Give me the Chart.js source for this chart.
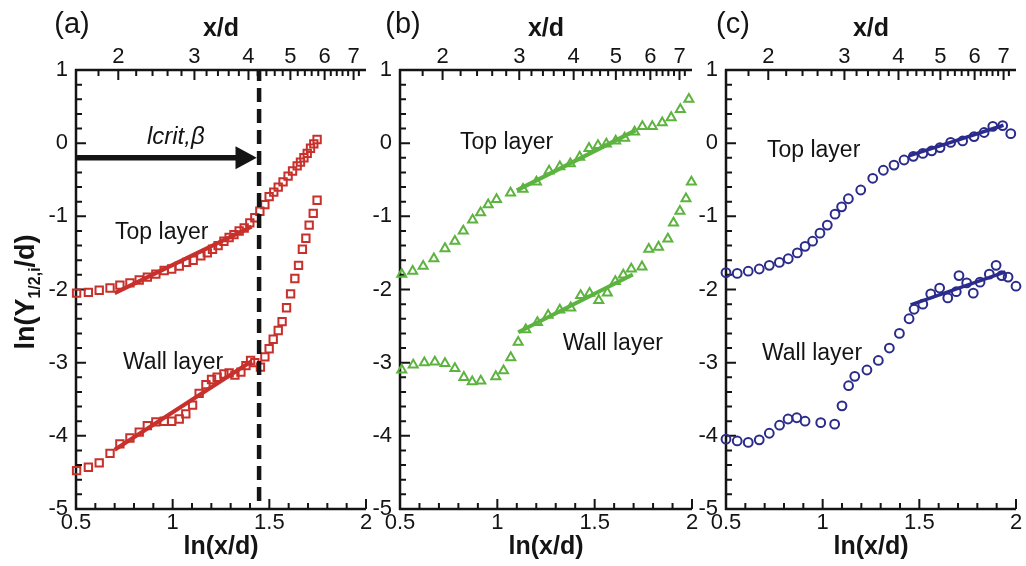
<!DOCTYPE html>
<html><head><meta charset="utf-8">
<script src="https://cdn.jsdelivr.net/npm/chart.js"></script>
<style>
html,body{margin:0;padding:0;background:#fff;}
#wrap{position:relative;width:1026px;height:566px;background:#fff;}
canvas{position:absolute;left:0;top:0;}
</style></head><body>
<div id="wrap">
<canvas id="ca" width="1026" height="566"></canvas>
<canvas id="cb" width="1026" height="566"></canvas>
<canvas id="cc" width="1026" height="566"></canvas>
</div>
<script>
// ---------- axis tick labels ----------
const xTicksBottom = [0.5, 1, 1.5, 2];
const yTicks = [-5, -4, -3, -2, -1, 0, 1];
const xdTopTicks = [2, 3, 4, 5, 6, 7];
const xdTopMinor = [1.8, 2.2, 2.4, 2.6, 2.8, 3.2, 3.4, 3.6, 3.8, 4.2, 4.4, 4.6, 4.8, 5.2, 5.4, 5.6, 5.8, 6.2, 6.4, 6.6, 6.8, 7.2];

// ---------- panel (a) ----------
const aTopX = [0.503,0.564,0.620,0.676,0.727,0.779,0.827,0.869,0.913,0.956,0.995,1.034,1.072,1.106,1.146,1.179,1.206,1.235,1.265,1.292,1.317,1.344,1.370,1.399,1.425,1.451,1.477,1.499,1.523,1.546,1.571,1.597,1.620,1.644,1.661,1.679,1.696,1.713,1.730,1.747];
const aTopY = [-2.05,-2.04,-2.01,-1.98,-1.94,-1.91,-1.87,-1.83,-1.79,-1.74,-1.72,-1.68,-1.63,-1.60,-1.54,-1.50,-1.45,-1.40,-1.34,-1.29,-1.25,-1.20,-1.16,-1.09,-1.02,-0.93,-0.84,-0.73,-0.67,-0.60,-0.53,-0.45,-0.38,-0.31,-0.26,-0.20,-0.14,-0.07,-0.01,0.05];
const aWallX = [0.503,0.564,0.620,0.676,0.727,0.779,0.827,0.869,0.913,0.956,0.995,1.034,1.068,1.103,1.137,1.172,1.201,1.230,1.265,1.292,1.322,1.353,1.379,1.403,1.425,1.454,1.477,1.499,1.520,1.546,1.566,1.589,1.610,1.632,1.651,1.671,1.689,1.706,1.727,1.747];
const aWallY = [-4.475,-4.43,-4.37,-4.24,-4.11,-4.03,-3.95,-3.86,-3.81,-3.80,-3.80,-3.77,-3.70,-3.58,-3.42,-3.30,-3.23,-3.20,-3.155,-3.14,-3.17,-3.13,-3.04,-2.97,-3.00,-3.06,-2.92,-2.81,-2.68,-2.56,-2.44,-2.25,-2.06,-1.85,-1.67,-1.45,-1.30,-1.12,-0.96,-0.78];
const aTopFitX = [0.70, 1.408];
const aTopFitY = [-2.05, -1.14];
const aWallFitX = [0.70, 1.408];
const aWallFitY = [-4.19, -2.98];
const critX = 1.447;          // dashed line position, ln(x/d)
const arrowY = -0.2;          // arrow level
const arrowHeadBaseX = 1.325;
const arrowTipX = 1.435;

// ---------- panel (b) ----------
const bTopX = [0.509,0.565,0.619,0.674,0.731,0.782,0.825,0.873,0.914,0.953,0.996,1.068,1.132,1.201,1.266,1.321,1.375,1.423,1.471,1.517,1.560,1.608,1.654,1.705,1.745,1.796,1.847,1.893,1.940,1.984];
const bTopY = [-1.79,-1.75,-1.68,-1.58,-1.44,-1.34,-1.20,-1.05,-0.95,-0.84,-0.77,-0.68,-0.63,-0.53,-0.38,-0.32,-0.28,-0.19,-0.07,-0.03,-0.01,0.03,0.07,0.155,0.23,0.23,0.28,0.35,0.46,0.60];
const bWallX = [0.509,0.568,0.625,0.679,0.731,0.782,0.828,0.871,0.915,0.992,1.032,1.069,1.107,1.146,1.206,1.261,1.321,1.377,1.428,1.474,1.521,1.565,1.606,1.647,1.688,1.743,1.778,1.828,1.876,1.905,1.938,1.969,1.997];
const bWallY = [-3.10,-3.03,-3.00,-2.99,-3.01,-3.08,-3.20,-3.26,-3.25,-3.19,-3.11,-2.93,-2.72,-2.55,-2.45,-2.35,-2.28,-2.25,-2.08,-2.05,-2.15,-2.045,-1.89,-1.80,-1.72,-1.69,-1.45,-1.42,-1.31,-1.09,-0.93,-0.76,-0.53];
const bTopFitX = [1.10, 1.71];
const bTopFitY = [-0.645, 0.175];
const bWallFitX = [1.107, 1.696];
const bWallFitY = [-2.585, -1.795];

// ---------- panel (c) ----------
const cTopX = [0.50,0.558,0.615,0.672,0.724,0.776,0.822,0.869,0.909,0.948,0.986,1.024,1.064,1.098,1.133,1.197,1.259,1.314,1.369,1.421,1.469,1.518,1.564,1.607,1.662,1.724,1.783,1.835,1.880,1.931,1.973];
const cTopY = [-1.77,-1.78,-1.75,-1.72,-1.67,-1.63,-1.58,-1.50,-1.41,-1.34,-1.23,-1.12,-0.97,-0.87,-0.76,-0.64,-0.48,-0.37,-0.30,-0.23,-0.18,-0.14,-0.105,-0.06,0.01,0.03,0.09,0.146,0.23,0.24,0.13];
const cWallX = [0.50,0.558,0.615,0.672,0.724,0.777,0.821,0.866,0.909,0.990,1.062,1.100,1.134,1.166,1.229,1.288,1.345,1.397,1.447,1.473,1.518,1.559,1.605,1.647,1.691,1.705,1.745,1.779,1.814,1.862,1.897,1.926,1.959,2.0];
const cWallY = [-4.045,-4.07,-4.09,-4.055,-3.965,-3.855,-3.77,-3.753,-3.80,-3.82,-3.84,-3.59,-3.315,-3.187,-3.10,-2.97,-2.80,-2.60,-2.40,-2.27,-2.20,-2.06,-1.98,-2.115,-2.03,-1.81,-1.91,-2.05,-1.90,-1.79,-1.67,-1.81,-1.83,-1.955];
const cTopFitX = [1.45, 1.935];
const cTopFitY = [-0.17, 0.245];
const cWallFitX = [1.455, 1.945];
const cWallFitY = [-2.21, -1.76];

// ---------- rendering ----------
const FONT = "'Liberation Sans', Arial, Helvetica, sans-serif";
Chart.defaults.font.family = FONT;
Chart.defaults.color = '#111';
const INK = '#141414';

function pts(xs, ys) { return xs.map((x, i) => ({ x: x, y: ys[i] })); }

const panels = [
  { canvas: 'ca', left: 76, right: 366, color: '#c8302c', style: 'rect', radius: 5.2, fitW: 4, tag: '(a)', tagX: 72,
    series: [[aTopX, aTopY], [aWallX, aWallY]], fits: [[aTopFitX, aTopFitY], [aWallFitX, aWallFitY]],
    notes: [{ t: 'Top layer', x: 0.702, y: -1.315 }, { t: 'Wall layer', x: 0.743, y: -3.08 }],
    yTitle: true, crit: true },
  { canvas: 'cb', left: 400, right: 692, color: '#5db33f', style: 'triangle', radius: 5.2, fitW: 4, tag: '(b)', tagX: 403,
    series: [[bTopX, bTopY], [bWallX, bWallY]], fits: [[bTopFitX, bTopFitY], [bWallFitX, bWallFitY]],
    notes: [{ t: 'Top layer', x: 0.808, y: -0.075 }, { t: 'Wall layer', x: 1.336, y: -2.83 }] },
  { canvas: 'cc', left: 726, right: 1016, color: '#2b2b8c', style: 'circle', radius: 4.4, fitW: 3.5, tag: '(c)', tagX: 733,
    series: [[cTopX, cTopY], [cWallX, cWallY]], fits: [[cTopFitX, cTopFitY], [cWallFitX, cWallFitY]],
    notes: [{ t: 'Top layer', x: 0.712, y: -0.19 }, { t: 'Wall layer', x: 0.686, y: -2.97 }] }
];

const PLOT_TOP = 70, PLOT_BOTTOM = 509, W = 1026, H = 566;
const Y_W = 60, TOP_H = 40, BOT_H = 40;

function makeDeco(p) {
  return {
    id: 'deco' + p.canvas,
    beforeDatasetsDraw(chart) {
      const { ctx, chartArea: ca, scales } = chart;
      ctx.save();
      ctx.strokeStyle = INK;
      ctx.lineCap = 'butt';
      // axis lines
      ctx.lineWidth = 2.5;
      ctx.beginPath();
      ctx.moveTo(ca.left - 1, ca.top); ctx.lineTo(ca.right, ca.top);
      ctx.moveTo(ca.left, ca.top - 1); ctx.lineTo(ca.left, ca.bottom + 1);
      ctx.moveTo(ca.left - 1, ca.bottom); ctx.lineTo(ca.right, ca.bottom);
      ctx.stroke();
      // y ticks
      const sy = scales.y;
      ctx.lineWidth = 2;
      ctx.beginPath();
      for (let k = 0; k <= 30; k++) {
        const v = -5 + k * 0.2;
        const py = sy.getPixelForValue(v);
        const major = k % 5 === 0;
        ctx.moveTo(ca.left, py); ctx.lineTo(ca.left + (major ? 10 : 6), py);
      }
      // bottom x ticks
      const sx = scales.x;
      for (let k = 0; k <= 15; k++) {
        const v = 0.5 + k * 0.1;
        const px = sx.getPixelForValue(v);
        const major = k % 5 === 0;
        ctx.moveTo(px, ca.bottom); ctx.lineTo(px, ca.bottom - (major ? 10 : 6));
      }
      // top x/d ticks
      const st = scales.x2;
      xdTopTicks.forEach(v => {
        const px = st.getPixelForValue(Math.log(v));
        ctx.moveTo(px, ca.top); ctx.lineTo(px, ca.top + 10);
      });
      xdTopMinor.forEach(v => {
        const px = st.getPixelForValue(Math.log(v));
        if (px <= ca.right + 0.5) { ctx.moveTo(px, ca.top); ctx.lineTo(px, ca.top + 6); }
      });
      ctx.stroke();

      // titles
      const cx = (ca.left + ca.right) / 2;
      ctx.fillStyle = INK;
      ctx.textAlign = 'center';
      ctx.textBaseline = 'middle';
      ctx.font = 'bold 25px ' + FONT;
      ctx.fillText('x/d', cx, 29);
      ctx.fillText('ln(x/d)', cx, 547);
      ctx.font = '29px ' + FONT;
      ctx.fillText(p.tag, p.tagX, 25);

      // notes
      ctx.textAlign = 'left';
      ctx.textBaseline = 'alphabetic';
      ctx.font = '23px ' + FONT;
      p.notes.forEach(n => {
        ctx.fillText(n.t, sx.getPixelForValue(n.x), sy.getPixelForValue(n.y));
      });

      // y title with subscript
      if (p.yTitle) {
        ctx.save();
        ctx.translate(34, 292);
        ctx.rotate(-Math.PI / 2);
        const big = 'bold 27px ' + FONT, small = 'bold 16px ' + FONT;
        ctx.font = big; const w1 = ctx.measureText('ln(Y').width; const w3 = ctx.measureText('/d)').width;
        ctx.font = small; const w2 = ctx.measureText('1/2,i').width;
        let x = -(w1 + w2 + w3) / 2;
        ctx.textAlign = 'left';
        ctx.font = big; ctx.fillText('ln(Y', x, 0); x += w1;
        ctx.font = small; ctx.fillText('1/2,i', x, 6); x += w2;
        ctx.font = big; ctx.fillText('/d)', x, 0);
        ctx.restore();
      }
      ctx.restore();
    },
    afterDatasetsDraw(chart) {
      if (!p.crit) return;
      const { ctx, chartArea: ca, scales } = chart;
      const sx = scales.x, sy = scales.y;
      ctx.save();
      // dashed line
      ctx.strokeStyle = INK;
      ctx.lineWidth = 4.5;
      ctx.setLineDash([14, 7]);
      ctx.lineDashOffset = -18;
      const dx = sx.getPixelForValue(critX);
      ctx.beginPath();
      ctx.moveTo(dx, sy.getPixelForValue(1));
      ctx.lineTo(dx, sy.getPixelForValue(-5));
      ctx.stroke();
      ctx.setLineDash([]);
      // arrow
      const ay = sy.getPixelForValue(arrowY);
      const hb = sx.getPixelForValue(arrowHeadBaseX);
      const tip = sx.getPixelForValue(arrowTipX);
      ctx.lineWidth = 5.5;
      ctx.beginPath();
      ctx.moveTo(ca.left, ay); ctx.lineTo(hb + 2, ay);
      ctx.stroke();
      ctx.fillStyle = INK;
      ctx.beginPath();
      ctx.moveTo(tip, ay); ctx.lineTo(hb, ay - 11.5); ctx.lineTo(hb, ay + 11.5); ctx.closePath();
      ctx.fill();
      // label
      ctx.font = 'italic 24px ' + FONT;
      ctx.textAlign = 'left';
      ctx.textBaseline = 'alphabetic';
      ctx.fillText('lcrit,β', sx.getPixelForValue(0.867), sy.getPixelForValue(-0.014));
      ctx.restore();
    }
  };
}

panels.forEach(p => {
  const datasets = [];
  p.fits.forEach(f => datasets.push({
    type: 'line', data: pts(f[0], f[1]), borderColor: p.color, borderWidth: p.fitW,
    pointRadius: 0, fill: false, tension: 0, clip: false, order: 1
  }));
  p.series.forEach(s => datasets.push({
    type: 'scatter', data: pts(s[0], s[1]), showLine: false,
    pointStyle: p.style, pointRadius: p.radius, pointBorderWidth: 2,
    pointBorderColor: p.color, pointBackgroundColor: 'rgba(0,0,0,0)', borderColor: p.color,
    clip: false, order: 2
  }));
  const tickFont = { size: 22, family: FONT };
  new Chart(document.getElementById(p.canvas), {
    type: 'scatter',
    data: { datasets },
    options: {
      responsive: false, animation: false, devicePixelRatio: 1,
      layout: { padding: { left: p.left - Y_W, right: W - p.right, top: PLOT_TOP - TOP_H, bottom: H - PLOT_BOTTOM - BOT_H } },
      plugins: { legend: { display: false }, tooltip: { enabled: false } },
      scales: {
        x: {
          type: 'linear', position: 'bottom', min: 0.5, max: 2,
          grid: { display: false, drawTicks: false }, border: { display: false },
          afterBuildTicks: s => { s.ticks = xTicksBottom.map(v => ({ value: v })); },
          afterFit: s => { s.height = BOT_H; },
          ticks: { font: tickFont, color: INK, padding: 1, maxRotation: 0, autoSkip: false,
                   callback: (v, i) => String(xTicksBottom[i]) }
        },
        x2: {
          type: 'linear', axis: 'x', position: 'top', min: 0.468, max: 2.012,
          grid: { display: false, drawTicks: false }, border: { display: false },
          afterBuildTicks: s => { s.ticks = xdTopTicks.map(v => ({ value: Math.log(v) })); },
          afterFit: s => { s.height = TOP_H; },
          ticks: { font: tickFont, color: INK, padding: 0, maxRotation: 0, autoSkip: false,
                   callback: (v, i) => String(xdTopTicks[i]) }
        },
        y: {
          type: 'linear', position: 'left', min: -5, max: 1,
          grid: { display: false, drawTicks: false }, border: { display: false },
          afterBuildTicks: s => { s.ticks = yTicks.map(v => ({ value: v })); },
          afterFit: s => { s.width = Y_W; },
          ticks: { font: tickFont, color: INK, padding: 8, autoSkip: false,
                   callback: (v, i) => String(yTicks[i]) }
        }
      }
    },
    plugins: [makeDeco(p)]
  });
});
</script>
</body></html>
